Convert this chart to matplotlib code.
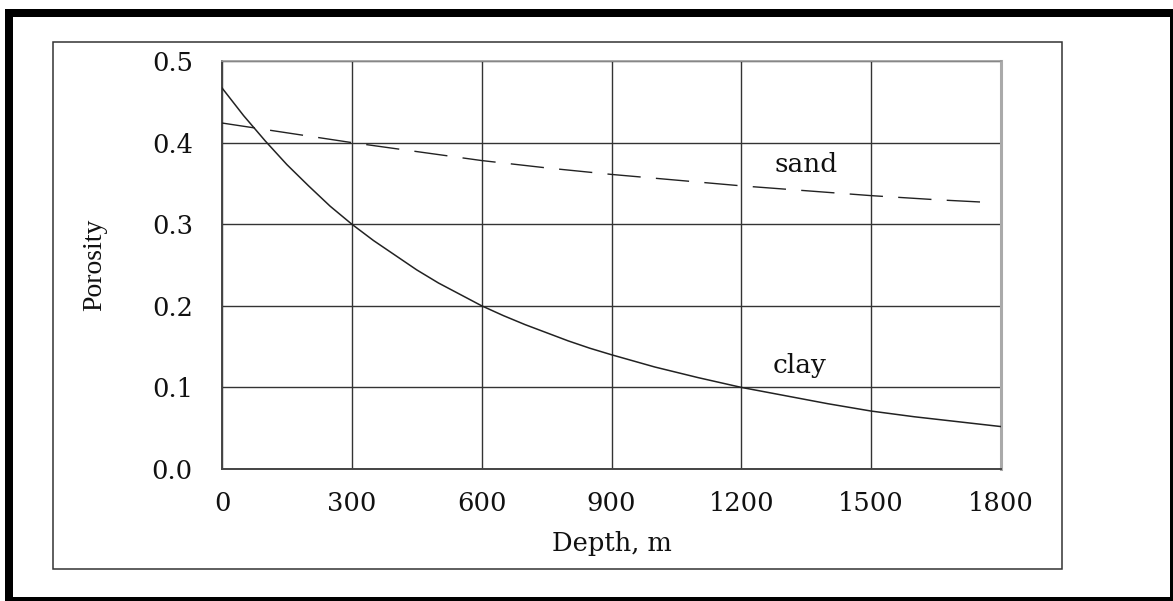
import matplotlib
matplotlib.use("Agg")
import matplotlib.pyplot as plt
from matplotlib.patches import Rectangle

# ---- data ----
clay_depth = [0, 50, 100, 150, 200, 250, 300, 350, 400, 450, 500, 550, 600, 650,
              700, 750, 800, 850, 900, 1000, 1100, 1200, 1300, 1400, 1500, 1600,
              1700, 1800]
clay_porosity = [0.467, 0.433, 0.402, 0.373, 0.347, 0.322, 0.300, 0.280, 0.262,
                 0.244, 0.228, 0.214, 0.200, 0.188, 0.177, 0.167, 0.157, 0.148,
                 0.140, 0.125, 0.112, 0.100, 0.090, 0.080, 0.071, 0.064, 0.058, 0.052]

sand_depth = [0, 150, 300, 450, 600, 750, 900, 1050, 1200, 1350, 1500, 1650, 1760]
sand_porosity = [0.424, 0.412, 0.400, 0.389, 0.378, 0.369, 0.361, 0.354, 0.347,
                 0.341, 0.335, 0.330, 0.327]

x_ticks = [0, 300, 600, 900, 1200, 1500, 1800]
y_ticks = [0.0, 0.1, 0.2, 0.3, 0.4, 0.5]
y_tick_labels = ["0.0", "0.1", "0.2", "0.3", "0.4", "0.5"]

W, H = 1173, 601
fig = plt.figure(figsize=(W / 100, H / 100), dpi=100)
fig.patch.set_facecolor("white")

# outer thick black frame
for (x0, y0, x1, y1) in [(5, 9, 1173, 17), (5, 9, 12.5, 601), (1170, 9, 1173, 601), (5, 597, 1173, 601)]:
    fig.patches.append(Rectangle((x0 / W, 1 - y1 / H), (x1 - x0) / W, (y1 - y0) / H,
                                 transform=fig.transFigure, facecolor="black",
                                 edgecolor="none", zorder=5))
# inner thin box
fig.patches.append(Rectangle((53 / W, 1 - 569 / H), (1062 - 53) / W, (569 - 42) / H,
                             transform=fig.transFigure, facecolor="none",
                             edgecolor="#333333", linewidth=1.1, zorder=5))

ax = fig.add_axes([222 / W, 1 - 469 / H, (1001 - 222) / W, (469 - 61) / H])

ax.plot(clay_depth, clay_porosity, color="#222222", linewidth=1.1, zorder=3)
ax.plot(sand_depth, sand_porosity, color="#222222", linewidth=1.0,
        linestyle=(0, (24, 11)), zorder=3)

ax.set_xlim(0, 1800)
ax.set_ylim(0, 0.5)
ax.set_xticks(x_ticks)
ax.set_xticklabels([str(v) for v in x_ticks])
ax.set_yticks(y_ticks)
ax.set_yticklabels(y_tick_labels)

ax.grid(True, color="#333333", linewidth=1.0)
ax.set_axisbelow(True)

for side in ("left", "bottom"):
    ax.spines[side].set_color("#444444")
    ax.spines[side].set_linewidth(1.4)
ax.spines["top"].set_color("#999999")
ax.spines["top"].set_linewidth(1.2)
ax.spines["right"].set_color("#aaaaaa")
ax.spines["right"].set_linewidth(2.2)

ax.tick_params(axis="both", length=0, labelcolor="#111111")
ax.tick_params(axis="x", pad=16)
ax.tick_params(axis="y", pad=21)
for lab in ax.get_xticklabels() + ax.get_yticklabels():
    lab.set_fontfamily("DejaVu Serif")
    lab.set_fontsize(18.5)

ax.set_xlabel("Depth, m", fontfamily="DejaVu Serif", fontsize=18.5, color="#111111")
ax.xaxis.set_label_coords(0.5, -(531 - 469) / 408)
ax.set_ylabel("Porosity", fontfamily="Liberation Serif", fontsize=20, color="#111111")
ax.yaxis.set_label_coords(-(222 - 107) / 779, 0.5)

ax.text(1349, 0.364, "sand", ha="center", va="baseline",
        fontfamily="DejaVu Serif", fontsize=19, color="#111111")
ax.text(1335, 0.1176, "clay", ha="center", va="baseline",
        fontfamily="DejaVu Serif", fontsize=19, color="#111111")

fig.savefig("out.png", dpi=100)
